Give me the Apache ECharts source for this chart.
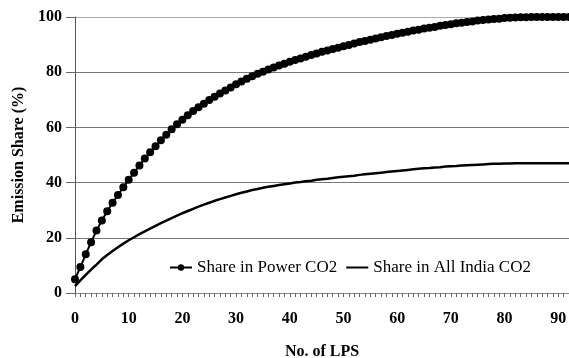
<!DOCTYPE html>
<html>
<head>
<meta charset="utf-8">
<script src="https://cdn.jsdelivr.net/npm/echarts@6/dist/echarts.min.js"></script>
<style>
	html, body { margin: 0; padding: 0; background: #fff; }
	#myChart { width: 569px; height: 358px; }
</style>
</head>
<body>
<div id="myChart"></div>
<script>
// No. of LPS
const lps = [0, 1, 2, 3, 4, 5, 6, 7, 8, 9, 10, 11, 12, 13, 14, 15, 16, 17, 18, 19, 20,
	21, 22, 23, 24, 25, 26, 27, 28, 29, 30, 31, 32, 33, 34, 35, 36, 37, 38, 39, 40,
	41, 42, 43, 44, 45, 46, 47, 48, 49, 50, 51, 52, 53, 54, 55, 56, 57, 58, 59, 60,
	61, 62, 63, 64, 65, 66, 67, 68, 69, 70, 71, 72, 73, 74, 75, 76, 77, 78, 79, 80,
	81, 82, 83, 84, 85, 86, 87, 88, 89, 90, 91, 92];

// Share in Power CO2 (%)
const powerShare = [5.0, 9.4, 14.0, 18.4, 22.6, 26.3, 29.6, 32.7, 35.5, 38.3, 41.0,
	43.6, 46.2, 48.7, 51.0, 53.2, 55.3, 57.3, 59.3, 61.1, 62.8,
	64.4, 65.9, 67.3, 68.6, 69.9, 71.1, 72.3, 73.4, 74.5, 75.6,
	76.6, 77.6, 78.5, 79.4, 80.2, 81.0, 81.7, 82.4, 83.1, 83.8,
	84.4, 85.0, 85.6, 86.2, 86.8, 87.4, 87.9, 88.4, 88.9, 89.4,
	89.9, 90.4, 90.9, 91.3, 91.8, 92.2, 92.7, 93.1, 93.5, 93.9,
	94.3, 94.7, 95.1, 95.4, 95.8, 96.1, 96.4, 96.8, 97.1, 97.4,
	97.7, 97.9, 98.2, 98.4, 98.7, 98.9, 99.1, 99.3, 99.4, 99.6,
	99.7, 99.8, 99.9, 99.9, 100, 100, 100, 100, 100, 100, 100, 100];

// Share in All India CO2 (%)
const indiaShare = [2.5, 4.6, 6.6, 8.5, 10.3, 12.2, 13.8, 15.2, 16.6, 17.9, 19.1,
	20.2, 21.3, 22.3, 23.3, 24.3, 25.3, 26.2, 27.1, 28.0, 28.9,
	29.7, 30.5, 31.3, 32.0, 32.7, 33.4, 34.0, 34.6, 35.2, 35.8,
	36.3, 36.8, 37.3, 37.7, 38.1, 38.5, 38.8, 39.1, 39.4, 39.7,
	40.0, 40.2, 40.5, 40.7, 41.0, 41.2, 41.4, 41.7, 41.9, 42.1,
	42.3, 42.5, 42.8, 43.0, 43.2, 43.4, 43.6, 43.8, 44.0, 44.2,
	44.4, 44.6, 44.8, 45.0, 45.2, 45.3, 45.5, 45.6, 45.8, 45.9,
	46.0, 46.2, 46.3, 46.4, 46.5, 46.6, 46.7, 46.8, 46.8, 46.9,
	46.9, 47.0, 47.0, 47.0, 47.0, 47.0, 47.0, 47.0, 47.0, 47.0, 47.0, 47.0];

const seriesNames = ['Share in Power CO2', 'Share in All India CO2'];

const serif = '"Liberation Serif", "Times New Roman", serif';

const myChart = echarts.init(document.getElementById('myChart'), null, { renderer: 'canvas' });

const option = {
	animation: false,
	backgroundColor: '#fff',
	legend: {
		data: [
			{ name: seriesNames[0] },
			// plain line icon, no dot
			{ name: seriesNames[1], itemStyle: { opacity: 0 } }
		],
		left: 164,
		top: 254,
		itemWidth: 22,
		itemHeight: 8,
		itemGap: 8,
		textStyle: {
			fontFamily: serif,
			fontSize: 17,
			color: '#000'
		}
	},
	grid: {
		left: 75,
		right: 0,
		top: 17,
		bottom: 65,
		outerBoundsMode: 'none',
		containLabel: false
	},
	xAxis: {
		type: 'value',
		min: 0,
		max: 92,
		interval: 10,
		name: 'No. of LPS',
		nameLocation: 'middle',
		nameGap: 51,
		nameTextStyle: {
			fontFamily: serif,
			fontWeight: 'bold',
			fontSize: 16,
			color: '#000'
		},
		axisLine: {
			lineStyle: { color: '#888', width: 1 }
		},
		axisTick: {
			show: true,
			length: 4,
			lineStyle: { color: '#666' }
		},
		minorTick: {
			show: true,
			splitNumber: 10,
			length: 4,
			lineStyle: { color: '#666' }
		},
		axisLabel: {
			margin: 18,
			showMaxLabel: false,
			fontFamily: serif,
			fontWeight: 'bold',
			fontSize: 16,
			color: '#000'
		},
		splitLine: { show: false }
	},
	yAxis: {
		type: 'value',
		min: 0,
		max: 100,
		interval: 20,
		name: 'Emission Share (%)',
		nameLocation: 'middle',
		nameGap: 48,
		nameTextStyle: {
			fontFamily: serif,
			fontWeight: 'bold',
			fontSize: 16,
			color: '#000'
		},
		axisLine: {
			show: true,
			lineStyle: { color: '#555', width: 1 }
		},
		axisTick: {
			show: true,
			length: 9,
			lineStyle: { color: '#666' }
		},
		axisLabel: {
			margin: 13,
			fontFamily: serif,
			fontWeight: 'bold',
			fontSize: 16,
			color: '#000'
		},
		splitLine: {
			show: true,
			lineStyle: {
				color: ['#777', '#777', '#777', '#777', '#777', '#aaa'],
				width: 1
			}
		}
	},
	series: [
		{
			name: seriesNames[0],
			type: 'line',
			data: lps.map((x, i) => [x, powerShare[i]]),
			symbol: 'circle',
			symbolSize: 8,
			showSymbol: true,
			lineStyle: { color: '#000', width: 2 },
			itemStyle: { color: '#000' }
		},
		{
			name: seriesNames[1],
			type: 'line',
			data: lps.map((x, i) => [x, indiaShare[i]]),
			symbol: 'none',
			lineStyle: { color: '#000', width: 2.5 },
			itemStyle: { color: '#000' }
		}
	]
};

myChart.setOption(option);
window.addEventListener('resize', () => myChart.resize());
</script>
</body>
</html>
